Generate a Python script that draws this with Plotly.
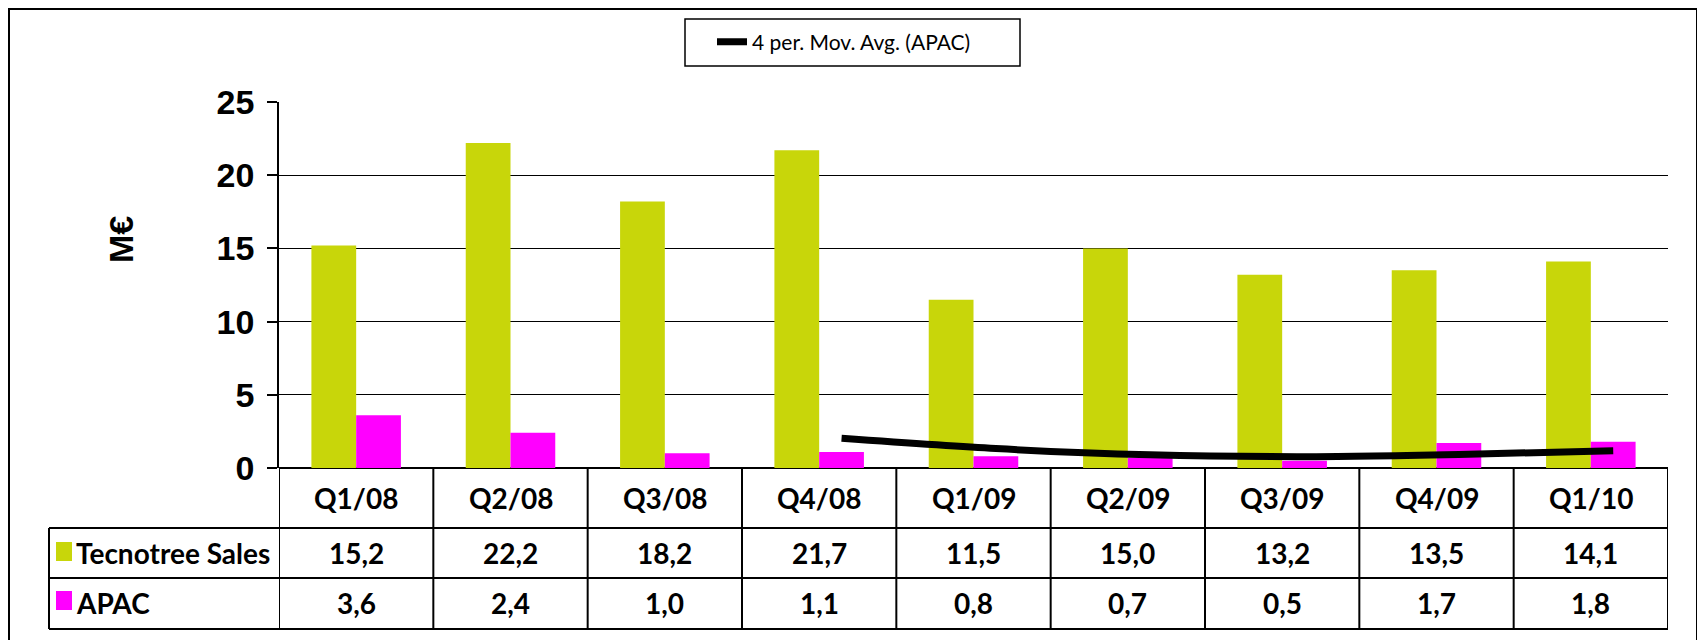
import numpy as np
import pandas as pd
import plotly.graph_objects as go

categories = ["Q1/08", "Q2/08", "Q3/08", "Q4/08", "Q1/09", "Q2/09", "Q3/09", "Q4/09", "Q1/10"]
tecnotree_sales = [15.2, 22.2, 18.2, 21.7, 11.5, 15.0, 13.2, 13.5, 14.1]
apac = [3.6, 2.4, 1.0, 1.1, 0.8, 0.7, 0.5, 1.7, 1.8]
series_names = ["Tecnotree Sales", "APAC"]
y_ticks = [0, 5, 10, 15, 20, 25]
y_title = "M€"
trend_name = "4 per. Mov. Avg. (APAC)"

GREEN = "#C8D60A"
MAGENTA = "#FF00FF"

W, H = 1705, 640
OFF = 8  # page body margin
L, R, T, B = 279, 1668, 102, 468   # plot area in page pixels
PW, PH = R - L, B - T


def px(x):
    return (x - L) / PW


def py(y):
    return (B - y) / PH


idx = np.arange(len(categories))
bargap = 0.42
bar_w = (1 - bargap) / 2
moving_avg = pd.Series(apac).rolling(4).mean()

fig = go.Figure()
fig.add_trace(go.Bar(x=idx, y=tecnotree_sales, name=series_names[0], marker_color=GREEN,
                     marker_line_width=0, showlegend=False))
fig.add_trace(go.Bar(x=idx, y=apac, name=series_names[1], marker_color=MAGENTA,
                     marker_line_width=0, showlegend=False))
mask = moving_avg.notna().values
fig.add_trace(go.Scatter(x=idx[mask] + bar_w / 2, y=moving_avg[mask], mode="lines",
                         line=dict(color="black", width=7, shape="spline", smoothing=0.8),
                         name=trend_name, showlegend=True))

shapes = []
# outer frame
shapes.append(dict(type="rect", xref="paper", yref="paper", x0=px(9), x1=px(1697), y0=py(9), y1=py(700),
                   line=dict(color="black", width=2), layer="below"))
# legend box
shapes.append(dict(type="rect", xref="paper", yref="paper", x0=px(685), x1=px(1020), y0=py(19), y1=py(66),
                   line=dict(color="black", width=1.5)))
# table horizontal lines
for yy in [528, 578, 629]:
    shapes.append(dict(type="line", xref="paper", yref="paper", x0=px(49), x1=1, y0=py(yy), y1=py(yy),
                       line=dict(color="black", width=2)))
# table vertical lines at category boundaries
for i in range(len(categories) + 1):
    shapes.append(dict(type="line", xref="x", yref="paper", x0=i - 0.5, x1=i - 0.5, y0=0, y1=py(629),
                       line=dict(color="black", width=2)))
shapes.append(dict(type="line", xref="paper", yref="paper", x0=px(49), x1=px(49), y0=py(528), y1=py(629),
                   line=dict(color="black", width=2)))
# legend keys in table
for yc, col in [(551, GREEN), (600, MAGENTA)]:
    shapes.append(dict(type="rect", xref="paper", yref="paper", x0=px(56), x1=px(72), y0=py(yc - 9), y1=py(yc + 10),
                       fillcolor=col, line=dict(width=0)))

annotations = []
cell_font = dict(family="Lato, Carlito, Calibri, sans-serif", size=28, color="black", weight="bold")
for i, c in enumerate(categories):
    annotations.append(dict(x=i, y=py(498), xref="x", yref="paper", text=c, showarrow=False,
                            font=cell_font, xanchor="center", yanchor="middle"))
    annotations.append(dict(x=i, y=py(553), xref="x", yref="paper", text=f"{tecnotree_sales[i]:.1f}".replace(".", ","),
                            showarrow=False, font=cell_font, xanchor="center", yanchor="middle"))
    annotations.append(dict(x=i, y=py(603), xref="x", yref="paper", text=f"{apac[i]:.1f}".replace(".", ","),
                            showarrow=False, font=cell_font, xanchor="center", yanchor="middle"))
for name, yc in zip(series_names, [553, 603]):
    annotations.append(dict(x=px(74), y=py(yc), xref="paper", yref="paper", text=name, showarrow=False,
                            font=cell_font, xanchor="left", yanchor="middle"))
annotations.append(dict(x=px(121), y=py(240), xref="paper", yref="paper", text=y_title, showarrow=False,
                        textangle=-90, font=dict(family="Liberation Sans, Arial", size=34, color="black", weight="bold"),
                        xanchor="center", yanchor="middle"))

fig.update_layout(
    width=W, height=H,
    margin=dict(l=L - OFF, r=W - (R - OFF), t=T - OFF, b=H - (B - OFF), pad=0),
    paper_bgcolor="white", plot_bgcolor="white",
    barmode="group", bargap=bargap, bargroupgap=0,
    showlegend=True,
    legend=dict(x=px(712), y=py(42), xanchor="left", yanchor="middle", bgcolor="rgba(0,0,0,0)",
                borderwidth=0, font=dict(family="Lato, Carlito, Calibri, sans-serif", size=21, color="black")),
    shapes=shapes, annotations=annotations,
    xaxis=dict(range=[-0.5, len(categories) - 0.5], showticklabels=False, ticks="", showgrid=False,
               zeroline=False, showline=False, fixedrange=True),
    yaxis=dict(range=[0, 25], tickvals=y_ticks, ticks="outside", ticklen=10, tickwidth=1.5, tickcolor="black",
               showgrid=True, gridcolor="black", gridwidth=1.3, showline=True, linecolor="black", linewidth=1.5,
               zeroline=True, zerolinecolor="black", zerolinewidth=2, ticklabelstandoff=6,
               tickfont=dict(family="Liberation Sans, Arial", size=34, color="black", weight="bold")),
)

fig.write_html("out.html")
